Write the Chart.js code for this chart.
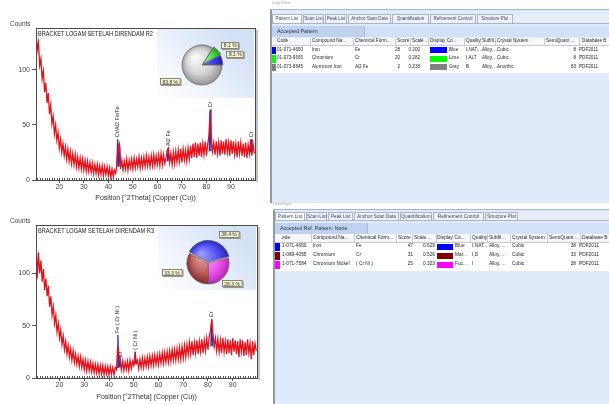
<!DOCTYPE html>
<html><head><meta charset="utf-8">
<script src="https://cdn.jsdelivr.net/npm/chart.js@4.4.1/dist/chart.umd.min.js"></script>
<style>
html,body{margin:0;padding:0;background:#fff;}
body{width:609px;height:404px;position:relative;overflow:hidden;font-family:"Liberation Sans",Arial,sans-serif;color:#222;}
.a{position:absolute;}
.t{position:absolute;white-space:nowrap;line-height:1;}
.tab{position:absolute;white-space:nowrap;border:1px solid #a9b5c7;background:#eef2f8;color:#3a4a66;box-sizing:border-box;text-align:center;}
</style></head><body>
<div class="a" style="left:0;top:0;width:268px;height:205px"><canvas id="xrdR2"></canvas></div>
<div class="a" style="left:157px;top:29px;width:97px;height:69px"><canvas id="pieR2"></canvas></div>
<div class="a" style="left:0;top:200px;width:268px;height:204px"><canvas id="xrdR3"></canvas></div>
<div class="a" style="left:158px;top:226px;width:98px;height:64px"><canvas id="pieR3"></canvas></div>
<div id="right"></div>
<script>
// ---------------- DATA ----------------
const scanStart = 10.5, scanStep = 0.5;           // scan grid (°2Theta)
const countsR2 = [
 134,118,125,104,110,92,99,80,88,
 70,79,60,68,51,58,42,50,36,43,
 29,37,25,33,22,30,19,28,17,26,
 15,24,14,23,12,21,11,20,10,19,
 9,18,8,17,8,16,7,15,6,14,
 6,14,5,13,5,13,4,12,5,12,
 4,11,2,10,3,9,6,14,30,33,
 10,18,9,17,10,19,9,18,11,19,
 10,20,11,19,12,21,11,20,12,21,
 12,22,13,21,12,22,13,23,13,22,
 14,23,13,24,14,23,15,20,27,29,
 16,24,14,25,15,26,16,27,17,28,
 16,28,18,27,17,29,19,31,20,33,
 21,34,20,33,22,34,21,33,23,35,
 22,32,40,62,38,26,34,23,35,24,
 34,22,36,24,35,23,37,25,34,22,
 36,24,35,23,33,21,35,24,34,22,
 33,21,34,20,32,24,37,22,33,24
];
const countsR3 = [
 130,95,120,100,112,92,104,84,95,
 78,88,68,78,60,68,52,60,44,52,
 38,46,32,40,27,35,23,31,20,28,
 17,26,15,23,13,21,11,20,10,18,
 8,17,7,16,7,15,6,14,5,13,
 5,13,4,12,4,12,3,11,4,11,
 3,11,4,10,3,10,8,30,22,18,
 8,16,7,15,8,16,7,17,9,16,
 12,22,14,17,9,18,10,19,10,19,
 11,20,11,21,12,21,12,22,13,22,
 13,23,14,24,14,24,15,25,15,26,
 16,27,17,27,17,28,18,29,18,30,
 19,31,20,32,22,34,23,35,22,34,
 24,36,23,35,25,37,24,36,26,38,
 27,40,45,56,42,30,38,26,37,25,
 36,24,38,25,35,23,37,24,36,22,
 38,25,36,23,35,20,37,25,36,21,
 34,22,37,24,33,18,35,22,33,26
];
const peakPosR2  = [43.8, 44.6, 64.4, 81.5, 98.2];
const peakTopR2  = [37, 31, 29, 64, 37];
const peakBaseR2 = [12, 12, 17, 26, 25];
const peakLabelR2 = ['Cr/Al2 Fe/Fe', '', 'Al2 Fe', 'Cr', 'Cr'];
const peakPosR3  = [43.6, 44.5, 50.6, 81.5];
const peakTopR3  = [41, 18, 25, 56];
const peakBaseR3 = [10, 10, 13, 30];
const peakLabelR3 = ['Fe ( Cr Ni )', 'Cr', '( Cr Ni )', 'Cr'];
const xTickValues = [20, 30, 40, 50, 60, 70, 80, 90];
const yTickValues = [0, 50, 100];
const titleR2 = 'BRACKET LOGAM SETELAH DIRENDAM R2';
const titleR3 = 'BRACKET LOGAM SETELAH DIRENDAM R3';
const xAxisTitle = 'Position [°2Theta] (Copper (Cu))';

const tabNames = ['Pattern List','Scan List','Peak List','Anchor Scan Data','Quantification','Refinement Control','Structure Plot'];
const headerNames = ['Code','Compound Na...','Chemical Form...','Score','Scale ...','Display Co...','Quality','Subfil...','Crystal System','SemiQuant ...','Database B'];

const codesR2 = ['01-071-4650','01-073-9565','01-073-8845'];
const compoundsR2 = ['Iron','Chromium','Aluminum Iron'];
const formulasR2 = ['Fe','Cr','Al2 Fe'];
const scoresR2 = [28, 20, 2];
const scaleFactorsR2 = ['0.200','0.282','0.238'];
const colorNamesR2 = ['Blue','Lime','Gray'];
const colorValuesR2 = ['#0000ff','#00ff00','#808080'];
const qualityR2 = ['I,NAT,...','I,ALT','B'];
const subfileR2 = ['Alloy, ...','Alloy, ...','Alloy, ...'];
const crystalR2 = ['Cubic','Cubic','Anorthic'];
const semiQuantR2 = [8, 8, 83];
const databaseR2 = ['PDF2011','PDF2011','PDF2011'];
const pieSharesR2 = [8.1, 8.1, 83.8];      // Iron, Chromium, Aluminum Iron

const codesR3 = ['01-071-4650','01-089-4055','01-071-7584'];
const compoundsR3 = ['Iron','Chromium','Chromium Nickel'];
const formulasR3 = ['Fe','Cr','( Cr Ni )'];
const scoresR3 = [47, 31, 25];
const scaleFactorsR3 = ['0.629','0.526','0.323'];
const colorNamesR3 = ['Blue','Mar...','Fuc...'];
const colorValuesR3 = ['#0000ff','#800000','#ff00ff'];
const qualityR3 = ['I,NAT,...','I,D','I'];
const subfileR3 = ['Alloy, ...','Alloy, ...','Alloy, ...'];
const crystalR3 = ['Cubic','Cubic','Cubic'];
const semiQuantR3 = [38, 33, 28];
const databaseR3 = ['PDF2011','PDF2011','PDF2011'];
const pieSharesR3 = [38.4, 33.3, 28.3];    // Iron, Chromium, Chromium Nickel

// ---------------- CHARTS ----------------
Chart.defaults.font.family = '"Liberation Sans", Arial, sans-serif';

function scanPoints(counts){ return counts.map((c,i)=>({x: scanStart + i*scanStep, y: c})); }
function peakPoints(pos, top, base){
  const pts = [];
  pos.forEach((p,i)=>{ pts.push({x:p-0.35,y:base[i]},{x:p,y:top[i]},{x:p+0.35,y:base[i]},{x:p+0.36,y:null}); });
  return pts;
}

const decorPlugin = {
  id: 'decor',
  afterDraw(chart, args, o){
    const {ctx, chartArea:a, scales:{x, y}} = chart;
    ctx.save();
    // minor ticks inside
    ctx.strokeStyle = '#555'; ctx.lineWidth = 1;
    ctx.beginPath();
    for (let v = 11; v <= 99; v++){
      const px = Math.round(x.getPixelForValue(v)) + 0.5;
      ctx.moveTo(px, a.bottom); ctx.lineTo(px, a.bottom - 2);
    }
    ctx.stroke();
    // frame
    ctx.strokeStyle = '#4a4a4a';
    ctx.strokeRect(Math.round(a.left)+0.5, Math.round(a.top)+0.5, Math.round(a.right-a.left), Math.round(a.bottom-a.top));
    ctx.fillStyle = '#c4c4c4';
    ctx.fillRect(Math.round(a.right)+1, a.top+2, 2, a.bottom-a.top);
    // peak labels
    ctx.fillStyle = '#333';
    ctx.font = '5.5px "Liberation Sans", Arial, sans-serif';
    ctx.textBaseline = 'middle'; ctx.textAlign = 'left';
    o.labels.forEach((t,i)=>{
      if (!t) return;
      const px = x.getPixelForValue(o.pos[i]);
      const py = y.getPixelForValue(o.top[i]) - 2;
      ctx.save(); ctx.translate(px, py); ctx.rotate(-Math.PI/2); ctx.fillText(t, 0, 0); ctx.restore();
    });
    // plot title inside the frame, compressed to fit left of the inset
    ctx.fillStyle = '#222';
    ctx.font = '6.4px "Liberation Sans", Arial, sans-serif';
    const tw = ctx.measureText(o.title).width, maxW = (a.right - a.left) * 0.525;
    ctx.save();
    ctx.translate(a.left + 2, a.top + 6);
    if (tw > maxW) ctx.scale(maxW / tw, 1);
    ctx.fillText(o.title, 0, 0);
    ctx.restore();
    ctx.fillStyle = '#444';
    ctx.font = '6.5px "Liberation Sans", Arial, sans-serif';
    ctx.fillText('Counts', 10, a.top - 4);
    ctx.restore();
  }
};

function makeXrd(id, counts, pos, top, base, labels, title, pad, xHeight, yMax){
  new Chart(document.getElementById(id), {
    type: 'line',
    data: { datasets: [
      { data: scanPoints(counts), borderColor: '#e3121a', borderWidth: 1.3, pointRadius: 0, tension: 0 },
      { data: peakPoints(pos, top, base), borderColor: '#2d2db8', borderWidth: 1.3, pointRadius: 0, tension: 0, spanGaps: false }
    ]},
    options: {
      responsive: true, maintainAspectRatio: false, animation: false,
      layout: { padding: pad },
      plugins: { legend: {display:false}, tooltip: {enabled:false},
        decor: { labels, pos, top, title } },
      scales: {
        x: { type: 'linear', min: 10.5, max: 99.8,
          afterBuildTicks: s => { s.ticks = xTickValues.map(v=>({value:v})); },
          ticks: { autoSkip:false, maxRotation:0, color:'#444', font:{size:7}, padding:0 },
          grid: { drawOnChartArea:false, tickLength:3, color:'#555' },
          border: { display:false },
          title: { display:true, text:xAxisTitle, color:'#333', font:{size:7}, padding:{top:0,bottom:3} },
          afterFit: s => { s.height = xHeight; } },
        y: { min: 0, max: yMax,
          afterBuildTicks: s => { s.ticks = yTickValues.map(v=>({value:v})); },
          ticks: { color:'#444', font:{size:7}, padding:2 },
          grid: { drawOnChartArea:false, tickLength:4, color:'#555' },
          border: { display:false },
          afterFit: s => { s.width = 36; } }
      }
    },
    plugins: [decorPlugin]
  });
}

makeXrd('xrdR2', countsR2, peakPosR2, peakTopR2, peakBaseR2, peakLabelR2, titleR2, {top:28, right:13, left:0, bottom:0}, 25, 138);
makeXrd('xrdR3', countsR3, peakPosR3, peakTopR3, peakBaseR3, peakLabelR3, titleR3, {top:25, right:11, left:0, bottom:0}, 26, 146);

// ---- pies ----
const pieBgPlugin = {
  id: 'pieBg',
  beforeDraw(chart){
    const {ctx, width, height} = chart;
    const g = ctx.createLinearGradient(0, height, width*0.7, 0);
    g.addColorStop(0, '#ffffff'); g.addColorStop(0.45, '#eef3fb'); g.addColorStop(1, '#d3e1f5');
    ctx.save(); ctx.fillStyle = g; ctx.fillRect(0, 0, width, height); ctx.restore();
  }
};
const pieLabelPlugin = {
  id: 'pieLabels',
  afterDatasetsDraw(chart, args, o){
    const meta = chart.getDatasetMeta(0);
    const {ctx} = chart;
    const arc0 = meta.data[0];
    const cx = arc0.x, cy = arc0.y, r = arc0.outerRadius;
    ctx.save();
    ctx.font = '5px "Liberation Sans", Arial, sans-serif';
    ctx.textAlign = 'center'; ctx.textBaseline = 'middle';
    chart.data.datasets[0].data.forEach((v,i)=>{
      const ang = o.angles[i]*Math.PI/180;
      const lx = cx + Math.cos(ang)*r*o.dists[i], ly = cy + Math.sin(ang)*r*o.dists[i];
      const txt = v.toFixed(1) + ' %';
      const w = ctx.measureText(txt).width + 5, h = 7;
      ctx.fillStyle = '#9a9a8a';
      ctx.fillRect(Math.round(lx - w/2)+1, Math.round(ly - h/2)+1, w, h);
      ctx.fillStyle = '#f7f2d2';
      ctx.fillRect(Math.round(lx - w/2), Math.round(ly - h/2), w, h);
      ctx.strokeStyle = '#6d6d60'; ctx.lineWidth = 0.8;
      ctx.strokeRect(Math.round(lx - w/2)+0.5, Math.round(ly - h/2)+0.5, w-1, h-1);
      ctx.fillStyle = '#333';
      ctx.fillText(txt, lx, ly + 0.5);
    });
    ctx.restore();
  }
};

function makePie(id, shares, order, shades, rotation, offsets, radius, pad, angles, dists){
  const data = order.map(i=>shares[i]);
  new Chart(document.getElementById(id), {
    type: 'pie',
    data: { labels: order.map(String), datasets: [{
      data,
      backgroundColor: c => {
        const ch = c.chart, a = ch.chartArea;
        const s = shades[c.dataIndex];
        if (!a) return s[1];
        const cx = (a.left+a.right)/2, cy = (a.top+a.bottom)/2;
        const g = ch.ctx.createRadialGradient(cx - radius*0.35, cy - radius*0.4, radius*0.05, cx, cy, radius*1.05);
        g.addColorStop(0, s[0]); g.addColorStop(0.6, s[1]); g.addColorStop(1, s[2]);
        return g;
      },
      borderColor: '#5e5e5e', borderWidth: 0.7, offset: offsets
    }]},
    options: {
      responsive: true, maintainAspectRatio: false, animation: false,
      rotation, radius,
      layout: { padding: pad },
      plugins: { legend:{display:false}, tooltip:{enabled:false}, pieLabels:{angles, dists} }
    },
    plugins: [pieBgPlugin, pieLabelPlugin]
  });
}

// R2 pie: clockwise Chromium (green), Iron (blue), Aluminum Iron (gray)
makePie('pieR2', pieSharesR2, [1,0,2],
  [['#c4ffbe','#4ee24e','#1f9a1f'], ['#a4a4ff','#4141f2','#1e1ea4'], ['#fbfbfb','#d2d2d2','#8e8e8e']],
  32, [4,2,0], 20, {left:0, right:7, top:3, bottom:0}, [-35,-18,152], [1.72,1.75,1.8]);
// R3 pie: clockwise Iron (blue), Chromium Nickel (fuchsia), Chromium (maroon)
makePie('pieR3', pieSharesR3, [0,2,1],
  [['#9c9cff','#4d4df2','#2626aa'], ['#ffb8ff','#f157f1','#b222b2'], ['#e6a8a8','#bb5c5c','#7c2626']],
  -62, [5,0,0], 21, {left:2, right:0, top:10, bottom:0}, [-54,41,164.5], [1.7,1.52,1.78]);

// ---------------- LIST PANES (HTML) ----------------
const root = document.getElementById('right');
function box(x, y, w, h, bg, extra){
  const d = document.createElement('div'); d.className = 'a';
  Object.assign(d.style, {left:x+'px', top:y+'px', width:w+'px', height:h+'px', background:bg}, extra||{});
  root.appendChild(d); return d;
}
function text(x, yc, t, size, color, right){
  const d = document.createElement('div'); d.className = 't';
  d.textContent = t; d.style.fontSize = size+'px'; d.style.color = color || '#222';
  d.style.top = (yc - size*0.55) + 'px';
  if (right) d.style.right = (609 - x) + 'px'; else d.style.left = x + 'px';
  root.appendChild(d); return d;
}

function buildPane(L, D){
  text(L.capX, L.capY, 'Lists Pane', 4, '#9a9a9a');
  box(L.x0, L.top, 609 - L.x0, L.bottom - L.top, '#dfeafb');
  box(L.borderX, L.top, 2, L.bottom - L.top, '#8f9aab');
  box(L.borderX, L.top, 609 - L.borderX, 1, '#aab5c6');
  // tab strip
  box(L.x0, L.tabY, 609 - L.x0, L.tabH, '#e7eef8', {borderBottom:'1px solid #a9b5c7', boxSizing:'border-box'});
  let x = L.x0;
  tabNames.forEach((n,i)=>{
    const d = document.createElement('div'); d.className = 'tab';
    d.textContent = n;
    Object.assign(d.style, {left:x+'px', top:L.tabY+'px', width:L.tabW[i]+'px', height:L.tabH+'px',
      fontSize:L.tabFont+'px', lineHeight:(L.tabH-2)+'px', background: i===0 ? '#ffffff' : '#eef2f8'});
    root.appendChild(d);
    x += L.tabW[i] + 1;
  });
  // accepted bar
  box(L.x0, L.accY, 609 - L.x0, L.accH, '#d3e1f6');
  box(L.x0, L.accY, L.accW, L.accH, '#bfd2ef', {borderRight:'1px solid #a9bbd8', boxSizing:'border-box'});
  text(L.x0 + 5, L.accY + L.accH/2, D.accepted, L.accFont, '#1e2a44');
  // header
  box(L.x0, L.hdrY, 609 - L.x0, L.hdrH, '#f5f7fb', {borderBottom:'1px solid #c3ccd9', boxSizing:'border-box'});
  L.seps.forEach(s => box(s, L.hdrY, 1, L.hdrH, '#c3ccd9'));
  D.headers.forEach((h,i)=> text(L.hx[i], L.hdrY + L.hdrH/2, h, L.hdrFont, '#2a2a2a'));
  // rows
  box(L.x0, L.hdrY + L.hdrH, 609 - L.x0, L.rowH*3 + 1, '#ffffff');
  for (let r = 0; r < 3; r++){
    const y = L.hdrY + L.hdrH + r*L.rowH, yc = y + L.rowH/2;
    box(L.x0, y + 0.5, L.barW, L.rowH - 1, D.colors[r]);
    const vals = [D.codes[r], D.compounds[r], D.formulas[r], String(D.scores[r]), D.scales[r], null,
                  D.quality[r], D.subfile[r], D.crystal[r], String(D.semi[r]), D.db[r]];
    vals.forEach((v,i)=>{
      if (v === null) return;
      const right = (i===3 || i===4 || i===9);
      text(L.vx[i], yc, v, L.rowFont, '#2a2a2a', right);
    });
    box(L.swX, yc - 3, L.swW, 6, D.colors[r]);
    text(L.swX + L.swW + 2, yc, D.colorNames[r], L.rowFont, '#2a2a2a');
  }
}

buildPane({
  capX:272, capY:3, x0:272, borderX:270, top:9, bottom:203,
  tabY:14, tabH:10, tabFont:4.5, tabW:[30,21,22,43,37,46,36],
  accY:26, accH:11, accW:93, accFont:5.3,
  hdrY:38, hdrH:8, hdrFont:4.7, rowH:8.5, rowFont:4.6, barW:4,
  seps:[310,353,395,410,428,464,480,495,544,579],
  hx:[277,312,355,397,412,430,466,482,497,546,582],
  vx:[277,312,355,400,420,0,466,482,497,576,579],
  swX:430, swW:17
}, {
  accepted:'Accepted Pattern', headers: headerNames,
  codes: codesR2, compounds: compoundsR2, formulas: formulasR2, scores: scoresR2, scales: scaleFactorsR2,
  colors: colorValuesR2, colorNames: colorNamesR2, quality: qualityR2, subfile: subfileR2,
  crystal: crystalR2, semi: semiQuantR2, db: databaseR2
});

buildPane({
  capX:273, capY:204, x0:275, borderX:273, top:209, bottom:404,
  tabY:212, tabH:9, tabFont:4.8, tabW:[30,21,25,45,32,51,33],
  accY:223, accH:11, accW:93, accFont:5.3,
  hdrY:234, hdrH:8.5, hdrFont:4.9, rowH:9, rowFont:4.8, barW:5,
  seps:[311,354,396,412,436,470,487,510,547,580],
  hx:[282,313,356,398,414,437,472,489,512,549,582],
  vx:[282,313,356,413,435,0,472,489,512,576,579],
  swX:437, swW:16
}, {
  accepted:'Accepted Ref. Pattern: None', headers: ['ode'].concat(headerNames.slice(1)),
  codes: codesR3.map(c=>c.slice(1)), compounds: compoundsR3, formulas: formulasR3, scores: scoresR3, scales: scaleFactorsR3,
  colors: colorValuesR3, colorNames: colorNamesR3, quality: qualityR3, subfile: subfileR3,
  crystal: crystalR3, semi: semiQuantR3, db: databaseR3
});
</script>
</body></html>
